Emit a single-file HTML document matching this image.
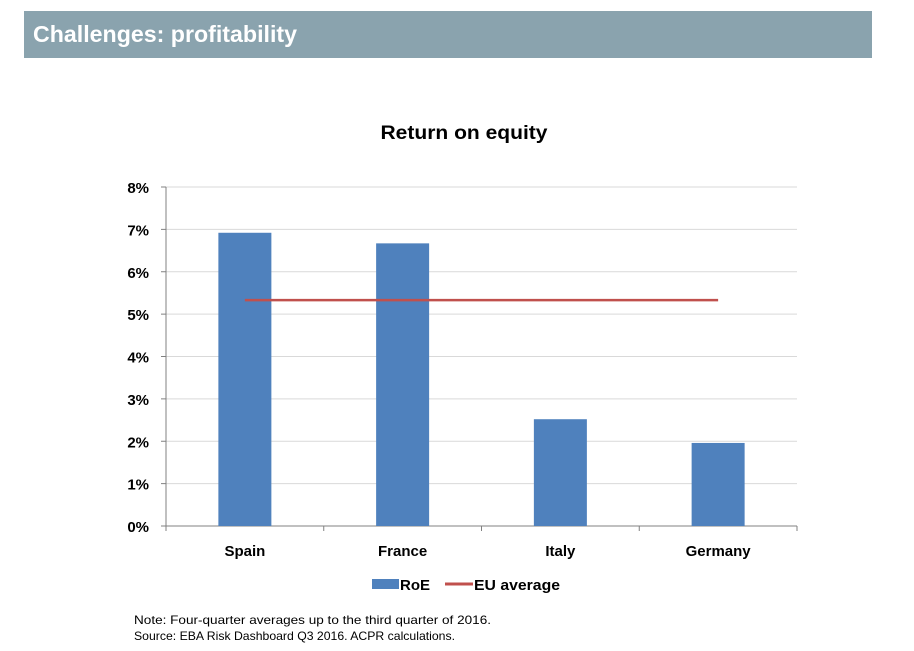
<!DOCTYPE html>
<html><head><meta charset="utf-8"><style>
body{margin:0;background:#fff;width:914px;height:646px;overflow:hidden;font-family:"Liberation Sans",sans-serif}
</style></head><body>
<svg width="914" height="646" xmlns="http://www.w3.org/2000/svg" font-family="Liberation Sans, sans-serif">
<rect x="24" y="11" width="848" height="47" fill="#8aa3ae"/>
<text x="33" y="42" fill="#fff" font-size="23" font-weight="bold" textLength="264" lengthAdjust="spacingAndGlyphs">Challenges: profitability</text>
<text x="464" y="139" text-anchor="middle" font-size="19" font-weight="bold" textLength="167" lengthAdjust="spacingAndGlyphs">Return on equity</text>
<g id="grid"></g>
<g id="yaxis"></g>
<g id="xaxis"></g>
<g id="bars"></g>
<g id="avg"></g>
<g>
<rect x="372" y="579" width="27" height="10" fill="#4f81bd"/>
<text x="400" y="590" font-size="15" font-weight="bold">RoE</text>
<line x1="445" y1="584" x2="473" y2="584" stroke="#c0504d" stroke-width="3"/>
<text x="474" y="590" font-size="15" font-weight="bold" textLength="86" lengthAdjust="spacingAndGlyphs">EU average</text>
</g>
<text x="134" y="624" font-size="12" textLength="357" lengthAdjust="spacingAndGlyphs">Note: Four-quarter averages up to the third quarter of 2016.</text>
<text x="134" y="640" font-size="12" textLength="321" lengthAdjust="spacingAndGlyphs">Source: EBA Risk Dashboard Q3 2016. ACPR calculations.</text>
</svg>
<script>
const categories=["Spain","France","Italy","Germany"];
const roeValues=[6.92,6.67,2.52,1.96];
const euAverage=5.33;
const yTicks=[0,1,2,3,4,5,6,7,8];
const NS="http://www.w3.org/2000/svg";
const X0=166,X1=797,Y0=526,Y8=187;
const y=v=>Y0-(v/8)*(Y0-Y8);
const bw=(X1-X0)/categories.length;
const xc=i=>X0+bw*(i+0.5);
function mk(t,a,p){const e=document.createElementNS(NS,t);for(const k in a)e.setAttribute(k,a[k]);p.appendChild(e);return e;}
const grid=document.getElementById('grid'),ya=document.getElementById('yaxis'),xa=document.getElementById('xaxis'),bars=document.getElementById('bars'),avg=document.getElementById('avg');
yTicks.forEach(t=>{
 if(t>0){const g=mk('line',{x1:X0,x2:X1,y1:y(t),y2:y(t),stroke:'#d9d9d9','stroke-width':1},grid);
 
 }
 const tk=mk('line',{x1:X0-5,x2:X0,y1:y(t),y2:y(t),stroke:'#808080'},ya);
 
 
 const lb=mk('text',{x:149,y:y(t)+6,'text-anchor':'end','font-size':15,'font-weight':'bold'},ya);
 lb.textContent=t+'%';
 
 
});
mk('line',{x1:X0,x2:X0,y1:Y8,y2:Y0,stroke:'#808080'},ya);
mk('line',{x1:X0,x2:X1,y1:Y0,y2:Y0,stroke:'#808080'},xa);
for(let i=0;i<=categories.length;i++){mk('line',{x1:X0+bw*i,x2:X0+bw*i,y1:Y0,y2:Y0+5,stroke:'#808080'},xa);}
categories.forEach((c,i)=>{
 const r=mk('rect',{x:xc(i)-26.5,y:y(roeValues[i]),width:53,height:Y0-y(roeValues[i]),fill:'#4f81bd'},bars);
 
 
 const l=mk('text',{x:xc(i),y:556,'text-anchor':'middle','font-size':15,'font-weight':'bold'},xa);
 l.textContent=c;
 
 
});
mk('line',{x1:xc(0),x2:xc(categories.length-1),y1:y(euAverage),y2:y(euAverage),stroke:'#c0504d','stroke-width':2.5},avg);
</script>
</body></html>
